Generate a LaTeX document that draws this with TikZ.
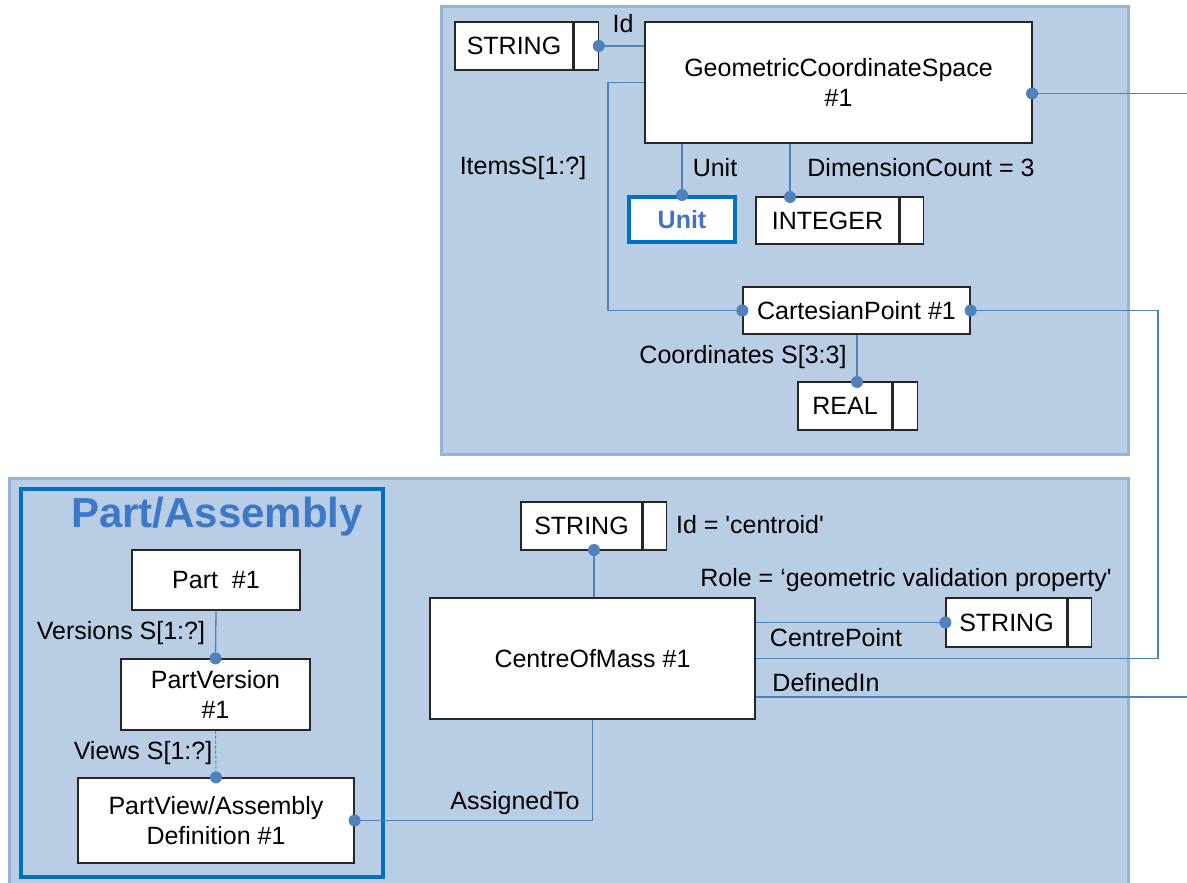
\documentclass[tikz,border=0pt]{standalone}
\usepackage{fontspec}
\setmainfont{Liberation Sans}
\definecolor{panel}{HTML}{B9CDE5}
\definecolor{panelborder}{HTML}{95B3D7}
\definecolor{conn}{HTML}{4F81BD}
\definecolor{strongblue}{HTML}{0070C0}
\definecolor{titleblue}{HTML}{3C78C8}
\definecolor{unitblue}{HTML}{4472C4}
\definecolor{boxline}{HTML}{262626}
\newcommand\jdot[1]{\fill[conn] (#1) circle (6pt);}
\begin{document}
\begin{tikzpicture}[x=1pt,y=-1pt,
  every node/.style={font=\fontsize{25}{30}\selectfont, inner sep=0pt},
  ent/.style={draw=boxline, fill=white, line width=1.2pt, align=center},
  cell/.style={draw=boxline, fill=white, line width=1.2pt},
  link/.style={draw=conn, line width=1.3pt},
  weak/.style={draw=conn, line width=1pt, dash pattern=on 3pt off 2pt},
  lbl/.style={text=black}
]
\useasboundingbox (0,0) rectangle (1187,883);
% panels
\fill[panel] (441,7) rectangle (1128,454);
\draw[panelborder, line width=3pt] (441,7) rectangle (1128,454);
\fill[panel] (9,478) rectangle (1128,886);
\draw[panelborder, line width=3pt] (9,890) -- (9,478) -- (1128,478) -- (1128,890);
\draw[strongblue, line width=3.5pt] (21,489) rectangle (383,877);
\node[text=titleblue, font=\fontsize{42}{48}\selectfont\bfseries] (title) at (217,517) {Part/Assembly};

% top nodes
\node[ent, minimum width=118pt, minimum height=48pt] (s1) at (514,46) {STRING};
\node[cell, minimum width=24pt, minimum height=48pt, anchor=west] (s1c) at (s1.east) {};
\node[ent, minimum width=387pt, minimum height=121pt] (gcs) at (838.5,82.5) {GeometricCoordinateSpace\\\#1};
\node[ent, draw=strongblue, line width=4pt, minimum width=106pt, minimum height=45pt, text=unitblue, font=\fontsize{25}{30}\selectfont\bfseries] (unit) at (682,219.5) {Unit};
\node[ent, minimum width=143pt, minimum height=47pt] (int) at (827.5,220.5) {INTEGER};
\node[cell, minimum width=23pt, minimum height=47pt, anchor=west] (intc) at (int.east) {};
\node[ent, minimum width=227pt, minimum height=47pt] (cp) at (856.5,310.5) {CartesianPoint \#1};
\node[ent, minimum width=94pt, minimum height=48pt] (real) at (845,406) {REAL};
\node[cell, minimum width=24pt, minimum height=48pt, anchor=west] (realc) at (real.east) {};

% bottom nodes
\node[ent, minimum width=121pt, minimum height=48pt] (sb) at (581.5,526) {STRING};
\node[cell, minimum width=23pt, minimum height=48pt, anchor=west] (sbc) at (sb.east) {};
\node[ent, minimum width=325pt, minimum height=121pt] (com) at (592.5,658.5) {CentreOfMass \#1};
\node[ent, minimum width=121pt, minimum height=49pt] (sr) at (1006.5,622.5) {STRING};
\node[cell, minimum width=23pt, minimum height=49pt, anchor=west] (src) at (sr.east) {};
\node[ent, minimum width=168pt, minimum height=60pt] (part) at (216,580) {Part\ \ \#1};
\node[ent, minimum width=189pt, minimum height=71pt] (pv) at (215.5,694.5) {PartVersion\\\#1};
\node[ent, minimum width=276pt, minimum height=85pt] (pvad) at (216,820.5) {PartView/Assembly\\Definition \#1};

% helper coordinates
\coordinate (itc) at (608,82.5);
\coordinate (intTop) at (790,197);
\coordinate (realTop) at (857,382);
\coordinate (gcsR) at (1032,93.5);
\coordinate (edgeA) at (1187,93.5);
\coordinate (cpR) at (1158,310.5);
\coordinate (edgeB) at (1187,697);
\coordinate (sbBot) at (594,550);

% connectors
\draw[link] (s1c.east) -- (s1c.east -| gcs.west);
\jdot{s1c.east}
\draw[link] (gcs.west) -- (itc) |- (cp.west);
\jdot{cp.west}
\draw[link] (unit.north |- gcs.south) -- (unit.north);
\jdot{unit.north}
\draw[link] (intTop |- gcs.south) -- (intTop);
\jdot{intTop}
\draw[link] (realTop |- cp.south) -- (realTop);
\jdot{realTop}
\draw[link] (gcsR) -- (edgeA);
\jdot{gcsR}
\draw[link] (cp.east) -- (cpR) |- (com.east);
\jdot{cp.east}
\draw[link] (com.east |- sr.west) -- (sr.west);
\jdot{sr.west}
\draw[link] (com.east |- edgeB) -- (edgeB);
\draw[link] (sbBot |- com.north) -- (sbBot);
\jdot{sbBot}
\draw[link] (com.south) |- (pvad.east);
\jdot{pvad.east}
\draw[link] (part.south) -- (pv.north);
\jdot{pv.north}
\draw[weak] (pv.south) -- (pvad.north);
\jdot{pvad.north}

% labels
\node[lbl] (lId) at (623,24) {Id};
\node[lbl] (lItems) at (523,168) {ItemsS[1:?]};
\node[lbl] (lUnit) at (715,168) {Unit};
\node[lbl] (lDim) at (921,168) {DimensionCount = 3};
\node[lbl] (lCoord) at (743,357) {Coordinates S[3:3]};
\node[lbl] (lIdc) at (750,525) {Id = \textquotesingle centroid\textquotesingle};
\node[lbl] (lRole) at (906,580) {Role = ‘geometric validation property\textquotesingle};
\node[lbl] (lCP) at (836,638) {CentrePoint};
\node[lbl] (lDef) at (826,683) {DefinedIn};
\node[lbl] (lAss) at (515,803) {AssignedTo};
\node[lbl] (lVer) at (121,633) {Versions S[1:?]};
\node[lbl] (lViews) at (143,753) {Views S[1:?]};
\end{tikzpicture}
\end{document}
